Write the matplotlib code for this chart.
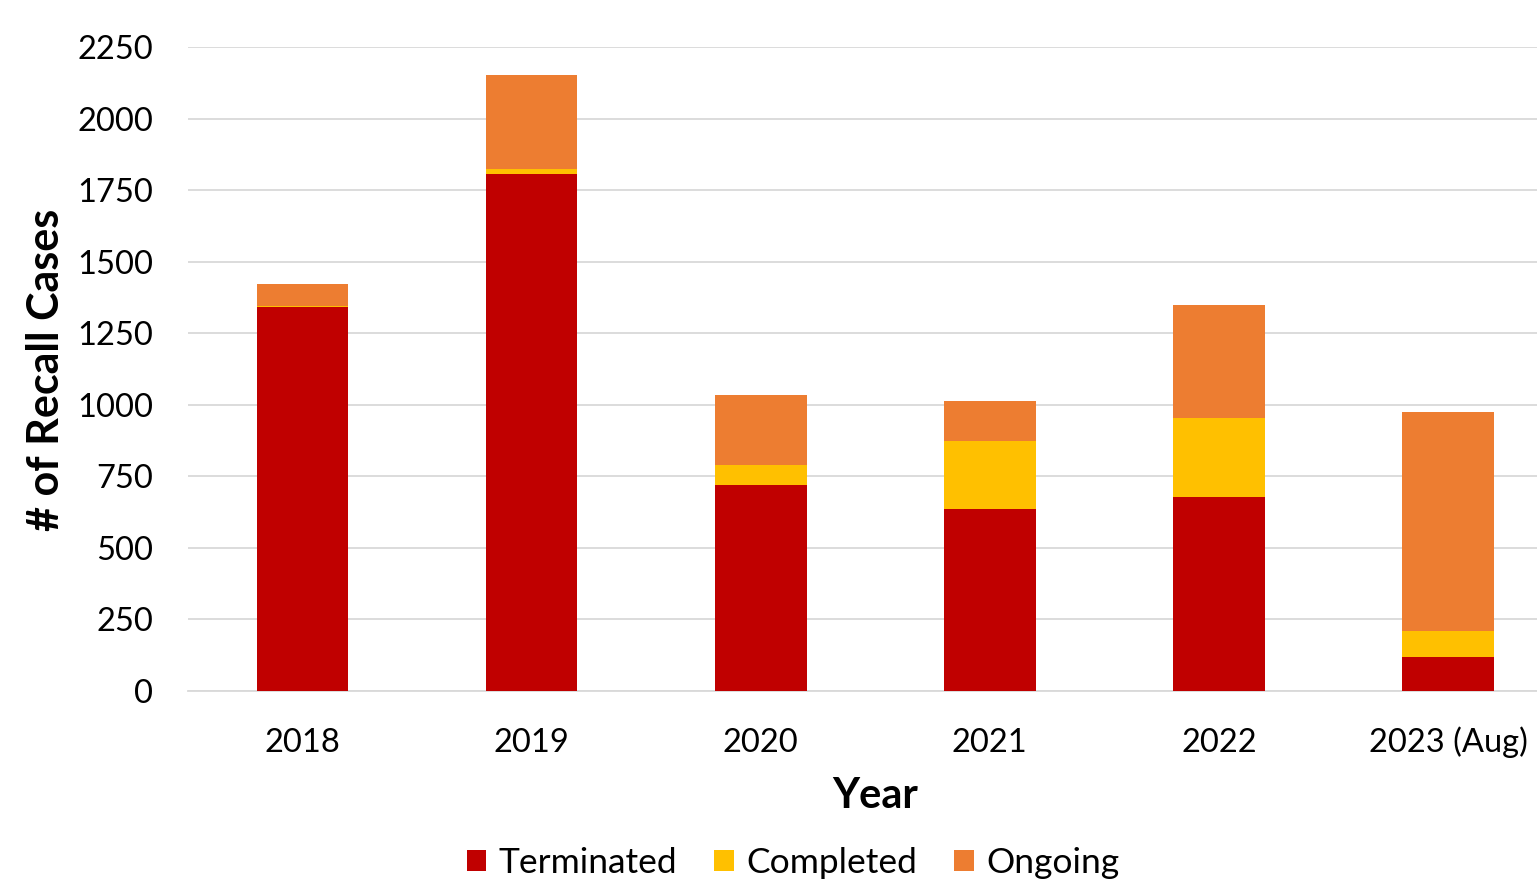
import matplotlib
matplotlib.use("Agg")
import matplotlib.pyplot as plt
import numpy as np

plt.rcParams['font.family'] = ['Lato', 'DejaVu Sans']

# recall cases per year, split by status
years = ['2018', '2019', '2020', '2021', '2022', '2023 (Aug)']
terminated = [1340, 1805, 720, 637, 676, 119]
completed = [5, 19, 70, 237, 277, 90]
ongoing = [78, 329, 243, 140, 396, 765]

colors = {'Terminated': '#C00000', 'Completed': '#FFC000', 'Ongoing': '#ED7D31'}

fig = plt.figure(figsize=(15.37, 8.8), dpi=100)
ax = fig.add_axes([0.1223, 0.2148, 0.8943, 0.7318])

x = np.arange(len(years))
w = 0.4
term = np.array(terminated)
comp = np.array(completed)
ong = np.array(ongoing)

ax.bar(x, term, w, color=colors['Terminated'], label='Terminated', zorder=3)
ax.bar(x, comp, w, bottom=term, color=colors['Completed'], label='Completed', zorder=3)
ax.bar(x, ong, w, bottom=term + comp, color=colors['Ongoing'], label='Ongoing', zorder=3)

ax.set_xlim(-0.5, len(years) - 0.5)
ax.set_ylim(0, 2250)
ax.set_yticks(np.arange(0, 2251, 250))
ax.set_xticks(x)
ax.set_xticklabels(years, va='baseline')

ax.grid(axis='y', color='#d9d9d9', linewidth=1.3, zorder=0)
for s in ['top', 'right', 'left']:
    ax.spines[s].set_visible(False)
ax.spines['bottom'].set_color('#d9d9d9')
ax.spines['bottom'].set_linewidth(1.3)
ax.tick_params(axis='both', length=0, labelsize=23.5, colors='black')
ax.tick_params(axis='y', pad=25)
ax.tick_params(axis='x', pad=44)

ax.set_xlabel('Year', fontsize=30, fontweight='bold', va='center')
ax.xaxis.set_label_coords(0.5, (691 - 796) / 644)
ax.set_ylabel('# of Recall Cases', fontsize=31, fontweight='bold', va='center')
ax.yaxis.set_label_coords((46 - 188) / 1374, (691 - 370) / 644)

leg = fig.legend(loc='center', bbox_to_anchor=(793 / 1537, 1 - 863 / 880), ncol=3,
                 frameon=False, fontsize=25.5, handlelength=0.55, handleheight=0.55,
                 handletextpad=0.35, columnspacing=1.05)

fig.savefig('out.png', dpi=100)
